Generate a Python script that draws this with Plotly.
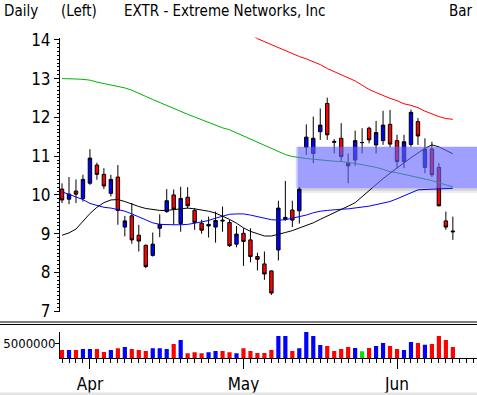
import plotly.graph_objects as go

# ---------------- data ----------------
idx = list(range(57))
opens = [10.15, 9.89, 10.10, 9.91, 10.30, 10.77, 10.53, 10.04, 10.46, 9.17,
         9.46, 8.96, 8.70, 8.44, 9.14, 9.57, 10.00, 9.26, 9.94, 9.60,
         9.27, 9.20, 9.17, 9.35, 9.29, 8.73, 9.01, 8.84, 8.41, 8.22,
         8.04, 8.58, 9.37, 9.61, 9.59, 11.23, 11.07, 11.63, 12.36, 11.38,
         11.46, 10.82, 10.90, 11.35, 11.72, 11.29, 11.40, 11.82, 11.40, 10.86,
         11.30, 11.89, 10.71, 11.18, 10.71, 9.33, 9.07]
highs = [10.30, 10.46, 10.40, 10.52, 11.18, 10.83, 10.69, 10.52, 10.77, 9.46,
         9.79, 9.23, 8.72, 9.03, 9.50, 10.15, 10.14, 10.21, 10.20, 9.66,
         9.36, 9.44, 9.57, 9.70, 9.36, 9.20, 9.14, 9.14, 8.51, 8.54,
         8.05, 9.85, 10.36, 9.85, 10.21, 11.82, 12.02, 12.23, 12.51, 11.44,
         11.85, 11.07, 11.66, 11.72, 11.76, 11.91, 12.17, 12.19, 11.55, 11.55,
         12.20, 11.98, 11.46, 11.37, 10.82, 9.57, 9.44]
lows = [9.79, 9.76, 9.79, 9.83, 10.26, 10.39, 10.15, 9.96, 9.23, 8.93,
        8.74, 8.54, 8.11, 8.41, 8.91, 9.54, 9.23, 9.05, 9.65, 9.10,
        9.00, 8.90, 8.77, 9.05, 8.66, 8.65, 8.17, 8.26, 8.05, 7.81,
        7.42, 8.31, 9.33, 9.17, 9.26, 11.03, 10.82, 11.42, 11.42, 11.07,
        10.86, 10.30, 10.75, 11.07, 11.33, 11.07, 11.29, 11.23, 10.69, 10.69,
        11.24, 11.29, 10.56, 10.46, 9.70, 9.10, 8.84]
closes = [9.87, 10.02, 10.02, 10.40, 10.95, 10.53, 10.23, 10.40, 9.60, 9.33,
          8.84, 8.81, 8.15, 8.73, 9.24, 9.85, 9.63, 9.91, 9.72, 9.29,
          9.09, 9.24, 9.34, 9.33, 8.69, 8.99, 8.80, 8.41, 8.34, 7.96,
          7.47, 9.66, 9.42, 9.35, 10.15, 11.49, 11.46, 11.80, 11.55, 11.36,
          10.99, 10.75, 11.40, 11.35, 11.42, 11.61, 11.80, 11.31, 10.86, 11.37,
          12.13, 11.52, 11.18, 10.52, 9.72, 9.17, 9.05]
volumes = [2.78e6, 2.78e6, 2.78e6, 3.1e6, 3.1e6, 3.1e6, 2.1e6, 2.78e6, 3.33e6, 3.78e6,
           3.1e6, 2.78e6, 2.4e6, 3.33e6, 3.33e6, 3.1e6, 4.78e6, 6.1e6, 1.67e6, 2.0e6,
           1.67e6, 2.0e6, 2.4e6, 2.4e6, 2.0e6, 1.67e6, 3.33e6, 2.44e6, 1.78e6, 1.78e6,
           2.78e6, 7.44e6, 7.44e6, 2.44e6, 3.33e6, 8.78e6, 7.44e6, 4.44e6, 4.1e6, 2.44e6,
           3.1e6, 3.78e6, 3.44e6, 2.33e6, 3.44e6, 4.1e6, 5.1e6, 4.1e6, 3.1e6, 2.78e6,
           5.44e6, 5.1e6, 4.55e6, 4.78e6, 7.44e6, 6.1e6, 3.78e6]

ma_short = [10.08, 10.02, 9.95, 9.88, 9.78, 9.72, 9.68, 9.66, 9.62, 9.58,
            9.51, 9.44, 9.36, 9.28, 9.24, 9.23, 9.23, 9.23, 9.24, 9.27,
            9.30, 9.34, 9.40, 9.46, 9.50, 9.51, 9.51, 9.48, 9.44, 9.39,
            9.36, 9.35, 9.36, 9.40, 9.44, 9.48, 9.54, 9.58, 9.60, 9.62,
            9.63, 9.64, 9.66, 9.68, 9.71, 9.75, 9.79, 9.83, 9.90, 9.98,
            10.06, 10.13, 10.14, 10.15, 10.16, 10.17, 10.17]
ma_fast = [8.96, 9.02, 9.12, 9.32, 9.52, 9.68, 9.80, 9.87, 9.88, 9.83,
           9.76, 9.70, 9.65, 9.62, 9.60, 9.60, 9.62, 9.65, 9.66, 9.64,
           9.61, 9.58, 9.53, 9.46, 9.37, 9.27, 9.15, 9.06, 8.99, 8.94,
           8.94, 8.98, 9.03, 9.08, 9.14, 9.22, 9.28, 9.37, 9.45, 9.54,
           9.63, 9.71, 9.80, 9.96, 10.12, 10.27, 10.42, 10.56, 10.70, 10.83,
           10.96, 11.08, 11.20, 11.29, 11.24, 11.15, 11.06]
ma_mid = [13.00, 13.00, 12.99, 12.98, 12.96, 12.91, 12.87, 12.84, 12.80, 12.76,
          12.70, 12.63, 12.54, 12.46, 12.38, 12.30, 12.22, 12.15, 12.08, 12.01,
          11.94, 11.86, 11.79, 11.73, 11.68, 11.60, 11.52, 11.45, 11.36, 11.27,
          11.19, 11.11, 11.04, 10.99, 10.96, 10.94, 10.92, 10.90, 10.89, 10.87,
          10.86, 10.84, 10.81, 10.78, 10.75, 10.71, 10.66, 10.60, 10.57, 10.53,
          10.50, 10.46, 10.42, 10.37, 10.31, 10.25, 10.21]
ma_long_idx = list(range(25, 57))
ma_long = [14.45, 14.30, 14.15, 14.03, 13.95, 13.88, 13.80, 13.72, 13.64, 13.57,
           13.51, 13.44, 13.36, 13.26, 13.18, 13.10, 13.03, 12.94, 12.83, 12.72,
           12.64, 12.56, 12.49, 12.43, 12.35, 12.31, 12.25, 12.16, 12.08, 12.02,
           11.97, 11.95]

month_pos = [4, 26, 48]
month_labels = ["Apr", "May", "Jun"]
zone_start = 33.75
zone_low, zone_high = 10.17, 11.24

# ---------------- figure ----------------
W, H = 477, 395
L = 60
def py(px):  # pixel row -> paper y
    return (H - px) / H
def pxx(px):  # pixel col -> paper x
    return (px - L) / (W - L)

XR = [-0.29, 59.46]
font_fam = "DejaVu Sans Condensed, DejaVu Sans"

fig = go.Figure()
fig.add_trace(go.Candlestick(
    x=idx, open=opens, high=highs, low=lows, close=closes,
    increasing=dict(fillcolor="#0000FF", line=dict(color="black", width=1)),
    decreasing=dict(fillcolor="#FF0000", line=dict(color="black", width=1)),
    whiskerwidth=0, xaxis="x", yaxis="y", hoverinfo="skip", showlegend=False))

for ys, xs, col in [(ma_mid, idx, "#00B400"), (ma_long, ma_long_idx, "#FF0000"),
                    (ma_short, idx, "#0000FF"), (ma_fast, idx, "#000000")]:
    fig.add_trace(go.Scatter(x=xs, y=ys, mode="lines", line=dict(color=col, width=1),
                             xaxis="x", yaxis="y", hoverinfo="skip", showlegend=False))

vcol = ["#0000FF" if c > o else ("#FF0000" if c < o else "#00E000")
        for o, c in zip(opens, closes)]
fig.add_trace(go.Bar(x=idx, y=volumes, marker=dict(color=vcol, line=dict(width=0)),
                     width=0.6, xaxis="x2", yaxis="y2", hoverinfo="skip", showlegend=False))

tickfont = dict(family=font_fam, size=17, color="black")
fig.update_layout(
    width=W, height=H,
    margin=dict(l=L, r=0, t=0, b=0, autoexpand=False),
    paper_bgcolor="white", plot_bgcolor="white",
    showlegend=False,
    xaxis=dict(domain=[0, 1], range=XR, anchor="y", showticklabels=False, ticks="",
               showline=False, showgrid=False, zeroline=False, automargin=False,
               rangeslider=dict(visible=False)),
    yaxis=dict(domain=[py(312), py(37.5)], range=[6.98, 14.06], anchor="x",
               tick0=0, dtick=1, ticks="outside", ticklen=5, tickcolor="black",
               showline=True, linecolor="black", linewidth=1, automargin=False,
               showgrid=False, zeroline=False, tickfont=tickfont,
               minor=dict(dtick=0.1, tick0=0, ticks="outside", ticklen=2, tickcolor="black")),
    xaxis2=dict(domain=[0, 1], range=XR, anchor="y2",
                tickvals=month_pos, ticktext=month_labels,
                ticks="outside", ticklen=10, tickcolor="black", automargin=False,
                showline=True, linecolor="black", linewidth=1,
                showgrid=False, zeroline=False, tickfont=tickfont,
                minor=dict(dtick=1, tick0=0, ticks="outside", ticklen=4, tickcolor="black")),
    yaxis2=dict(domain=[py(358.3), py(331.7)], range=[0, 8.87e6], anchor="x2",
                tickvals=[5e6], ticktext=["5000000"], automargin=False,
                ticks="outside", ticklen=4, tickcolor="black",
                showline=True, linecolor="black", linewidth=1,
                showgrid=False, zeroline=False, ticklabelstandoff=-3,
                tickfont=dict(family=font_fam, size=13, color="black")),
)

shapes = [
    # highlighted zone + soft edges/shadow
    dict(type="rect", xref="x", yref="y", x0=zone_start - 0.25, x1=zone_start,
         y0=zone_low, y1=zone_high, fillcolor="rgba(110,110,255,0.3)",
         line=dict(width=0), layer="above"),
    dict(type="rect", xref="x", yref="y", x0=zone_start, x1=XR[1],
         y0=zone_low, y1=zone_high, fillcolor="rgba(100,100,255,0.62)",
         line=dict(width=0), layer="above"),
    dict(type="rect", xref="x", yref="y", x0=zone_start, x1=XR[1],
         y0=zone_low - 0.06, y1=zone_low, fillcolor="rgba(0,0,0,0.18)",
         line=dict(width=0), layer="above"),
    dict(type="rect", xref="x", yref="y", x0=zone_start, x1=XR[1],
         y0=zone_low - 0.12, y1=zone_low - 0.06, fillcolor="rgba(0,0,0,0.07)",
         line=dict(width=0), layer="above"),
    # panel separator
    dict(type="line", xref="paper", yref="paper", x0=pxx(0), x1=1,
         y0=py(322), y1=py(322), line=dict(color="black", width=1)),
    dict(type="line", xref="paper", yref="paper", x0=pxx(0), x1=1,
         y0=py(324.5), y1=py(324.5), line=dict(color="black", width=1)),
    # bottom border band
    dict(type="rect", xref="paper", yref="paper", x0=pxx(0), x1=1,
         y0=0, y1=py(392.5), fillcolor="#E4E4E4", line=dict(width=0)),
]
fig.update_layout(shapes=shapes)

hdr = dict(family=font_fam, size=15, color="black")
for txt, px in [("Daily", 2), ("(Left)", 59), ("EXTR - Extreme Networks, Inc", 122), ("Bar", 447)]:
    fig.add_annotation(text=txt, xref="paper", yref="paper", x=pxx(px), y=py(10.5),
                       xanchor="left", yanchor="middle", showarrow=False, font=hdr)

fig.write_html("out.html", config={"displayModeBar": False},
               post_script="document.body.style.margin='0';")
